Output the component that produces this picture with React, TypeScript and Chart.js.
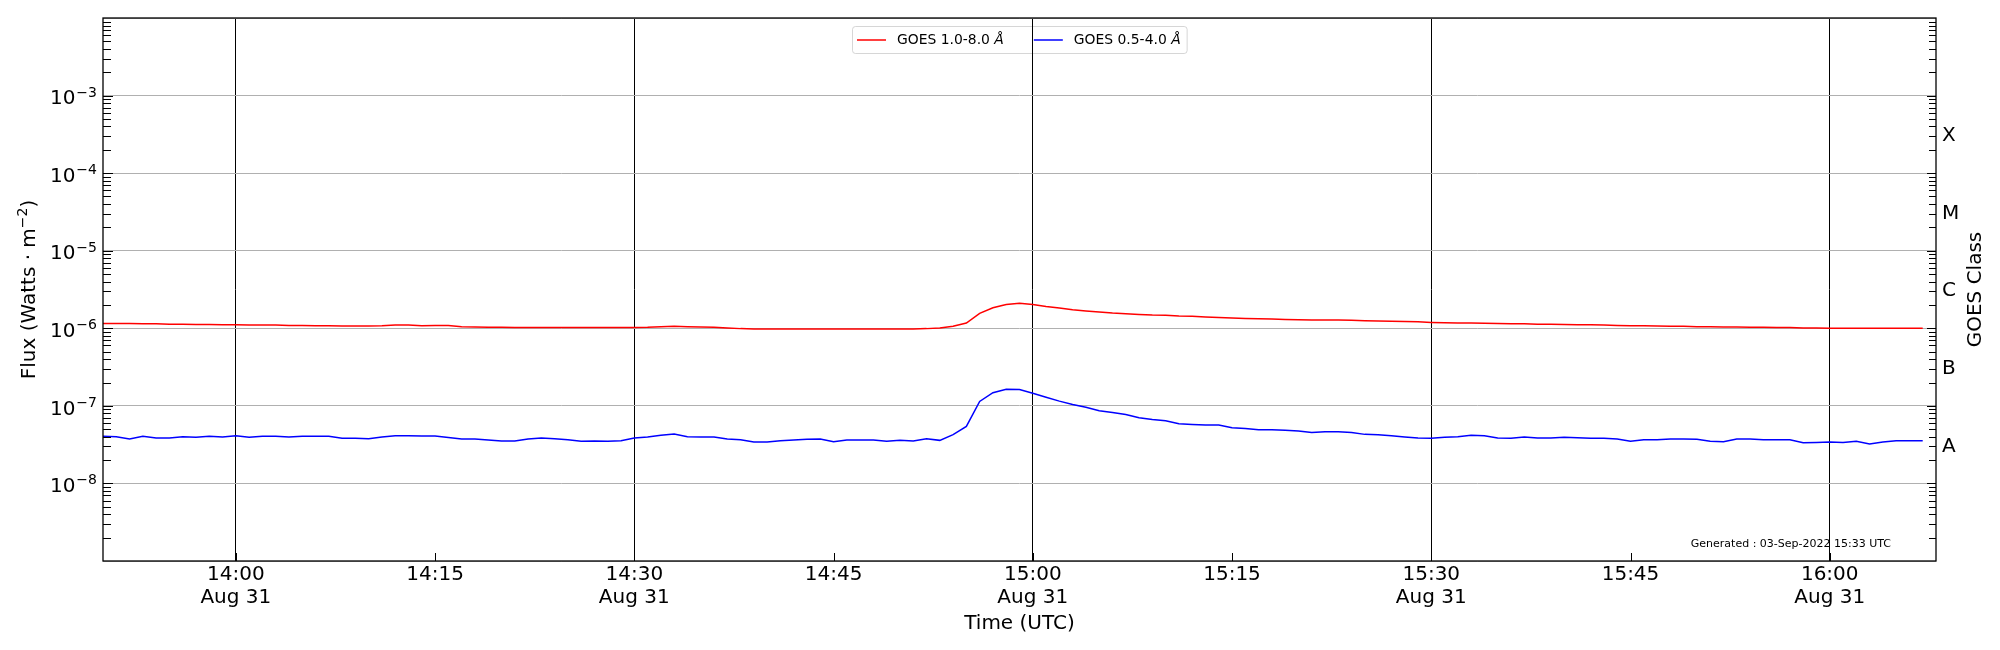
import { useEffect, useRef } from "react";
import { Chart, registerables } from "chart.js";

Chart.register(...registerables);

const FONT = '"DejaVu Sans", sans-serif';
Chart.defaults.font.family = FONT;

// one-minute GOES XRS averages, 13:50 .. 16:07 UTC
const startMinute = 830; // 13:50 UTC, minutes since midnight
const endMinute = 968; // 16:08 UTC, right edge of the axis

// 1.0-8.0 Å channel, in units of 1e-6 W/m^2
const xrsLong = [
  1.15, 1.15, 1.15, 1.14, 1.14, 1.13, 1.13, 1.12, 1.12, 1.11,
  1.11, 1.1, 1.1, 1.1, 1.09, 1.09, 1.08, 1.08, 1.07, 1.07,
  1.07, 1.08, 1.1, 1.1, 1.08, 1.09, 1.09, 1.05, 1.04, 1.03,
  1.03, 1.02, 1.02, 1.02, 1.02, 1.02, 1.02, 1.02, 1.02, 1.02,
  1.02, 1.03, 1.05, 1.06, 1.05, 1.04, 1.03, 1.01, 0.99, 0.98,
  0.98, 0.98, 0.98, 0.98, 0.98, 0.98, 0.98, 0.98, 0.98, 0.98,
  0.98, 0.98, 0.99, 1.01, 1.06, 1.17, 1.56, 1.84, 2.03, 2.11,
  2.03, 1.91, 1.82, 1.73, 1.67, 1.62, 1.57, 1.54, 1.51, 1.48,
  1.47, 1.44, 1.43, 1.4, 1.38, 1.36, 1.34, 1.33, 1.32, 1.3,
  1.29, 1.28, 1.28, 1.28, 1.27, 1.25, 1.24, 1.23, 1.22, 1.21,
  1.19, 1.18, 1.17, 1.17, 1.16, 1.15, 1.14, 1.14, 1.13, 1.13,
  1.12, 1.11, 1.11, 1.1, 1.09, 1.08, 1.08, 1.07, 1.06, 1.06,
  1.05, 1.05, 1.04, 1.04, 1.03, 1.03, 1.02, 1.02, 1.01, 1.01,
  1.0, 1.0, 1.0, 1.0, 1.0, 1.0, 1.0, 1.0,
];

// 0.5-4.0 Å channel, in units of 1e-8 W/m^2
const xrsShort = [
  4.05, 4.01, 3.74, 4.05, 3.85, 3.85, 4.01, 3.93, 4.05, 3.97,
  4.12, 3.93, 4.05, 4.05, 3.97, 4.05, 4.05, 4.05, 3.81, 3.81,
  3.77, 3.97, 4.12, 4.12, 4.08, 4.08, 3.9, 3.74, 3.74, 3.63,
  3.52, 3.52, 3.74, 3.85, 3.77, 3.66, 3.49, 3.52, 3.49, 3.56,
  3.85, 3.97, 4.17, 4.33, 4.01, 3.97, 3.97, 3.74, 3.66, 3.42,
  3.42, 3.56, 3.63, 3.7, 3.74, 3.45, 3.63, 3.63, 3.63, 3.49,
  3.59, 3.52, 3.77, 3.59, 4.25, 5.43, 11.4, 14.8, 16.4, 16.2,
  14.5, 12.9, 11.5, 10.4, 9.61, 8.63, 8.22, 7.74, 7.02, 6.68,
  6.43, 5.88, 5.76, 5.65, 5.65, 5.22, 5.12, 4.92, 4.92, 4.83,
  4.73, 4.55, 4.64, 4.64, 4.55, 4.29, 4.25, 4.12, 3.97, 3.85,
  3.81, 3.93, 4.01, 4.17, 4.12, 3.85, 3.81, 3.97, 3.85, 3.85,
  3.93, 3.89, 3.81, 3.81, 3.74, 3.49, 3.66, 3.66, 3.74, 3.74,
  3.7, 3.49, 3.45, 3.74, 3.74, 3.66, 3.66, 3.66, 3.35, 3.38,
  3.42, 3.38, 3.49, 3.22, 3.42, 3.56, 3.56, 3.56,
];

const seriesLabels = ["GOES 1.0-8.0 Å", "GOES 0.5-4.0 Å"];
const seriesColors = ["#ff0000", "#0000ff"];

const timeTicks = [840, 855, 870, 885, 900, 915, 930, 945, 960];
const dateLabel = "Aug 31";
const fluxDecades = [-8, -7, -6, -5, -4, -3];
const goesClassLevels = [3e-8, 3e-7, 3e-6, 3e-5, 3e-4];
const goesClassLabels = ["A", "B", "C", "M", "X"];
const generatedNote = "Generated : 03-Sep-2022 15:33 UTC";

const isDecade = (v: number) =>
  Math.abs(Math.log10(v) - Math.round(Math.log10(v))) < 1e-6;
const hhmm = (m: number) =>
  `${Math.floor(m / 60)}:${String(m % 60).padStart(2, "0")}`;

// label text with the trailing Å in italics (matplotlib mathtext look)
function splitLabel(text: string) {
  return text.endsWith("Å") ? [text.slice(0, -1), "Å"] : [text, ""];
}
function measureLabel(ctx: CanvasRenderingContext2D, text: string, size: number) {
  const [head, tail] = splitLabel(text);
  ctx.font = `${size}px ${FONT}`;
  let w = ctx.measureText(head).width;
  ctx.font = `italic ${size}px ${FONT}`;
  w += ctx.measureText(tail).width;
  return w;
}
function drawLabel(ctx: CanvasRenderingContext2D, text: string, x: number, y: number, size: number) {
  const [head, tail] = splitLabel(text);
  ctx.font = `${size}px ${FONT}`;
  ctx.fillText(head, x, y);
  const w = ctx.measureText(head).width;
  ctx.font = `italic ${size}px ${FONT}`;
  ctx.fillText(tail, x + w, y);
}

const goesPlugin = {
  id: "goesDecor",
  // legend sits under the grid, like the matplotlib one
  beforeDraw(chart: any) {
    const { ctx, chartArea: a } = chart;
    const fs = 13.9;
    const lineLen = 29, gapLT = 11, gapItems = 30, padL = 5, padR = 6;
    const datasets = chart.data.datasets;
    const widths = datasets.map((ds: any) => measureLabel(ctx, ds.label, fs));
    const total =
      padL + padR + gapItems * (widths.length - 1) +
      widths.reduce((s: number, w: number) => s + lineLen + gapLT + w, 0);
    const bx = Math.round((a.left + a.right) / 2 - total / 2);
    const by = a.top + 8;
    const bh = 27;
    ctx.save();
    ctx.beginPath();
    ctx.roundRect(bx + 0.5, by + 0.5, total, bh, 3);
    ctx.fillStyle = "rgba(255,255,255,0.8)";
    ctx.fill();
    ctx.strokeStyle = "rgba(204,204,204,0.8)";
    ctx.lineWidth = 1;
    ctx.stroke();
    let x = bx + padL;
    const cy = by + 14;
    datasets.forEach((ds: any, i: number) => {
      ctx.strokeStyle = ds.borderColor;
      ctx.lineWidth = 1.5;
      ctx.beginPath();
      ctx.moveTo(x, cy);
      ctx.lineTo(x + lineLen, cy);
      ctx.stroke();
      x += lineLen + gapLT;
      ctx.fillStyle = "#000";
      ctx.textAlign = "left";
      ctx.textBaseline = "middle";
      drawLabel(ctx, ds.label, x, cy, fs);
      x += widths[i] + gapItems;
    });
    ctx.restore();
  },
  afterDraw(chart: any) {
    const { ctx, chartArea: a, scales } = chart;
    const ys = scales.y;
    const xs = scales.x;
    ctx.save();

    // frame
    ctx.strokeStyle = "#000";
    ctx.lineWidth = 1.3;
    ctx.strokeRect(a.left, a.top, a.right - a.left, a.bottom - a.top);

    // inward ticks on left, right and bottom
    ctx.lineWidth = 1;
    ctx.beginPath();
    for (let e = -9; e <= -3; e++) {
      for (let k = 1; k <= 9; k++) {
        const py = Math.round(ys.getPixelForValue(k * Math.pow(10, e))) + 0.5;
        if (py <= a.top + 1 || py >= a.bottom - 1) continue;
        const len = k === 1 ? 10 : 8;
        ctx.moveTo(a.left, py);
        ctx.lineTo(a.left + len, py);
        ctx.moveTo(a.right, py);
        ctx.lineTo(a.right - len + 1, py);
      }
    }
    timeTicks.forEach((t) => {
      const px = Math.round(xs.getPixelForValue(t)) + 0.5;
      ctx.moveTo(px, a.bottom);
      ctx.lineTo(px, a.bottom - 8);
    });
    ctx.stroke();

    // left tick labels 10^-n
    ctx.fillStyle = "#000";
    ctx.textBaseline = "alphabetic";
    ctx.textAlign = "right";
    fluxDecades.forEach((e) => {
      const py = ys.getPixelForValue(Math.pow(10, e));
      const sup = "\u2212" + Math.abs(e);
      const rx = a.left - 6;
      ctx.font = `14px ${FONT}`;
      ctx.fillText(sup, rx, py + 1);
      const sw = ctx.measureText(sup).width;
      ctx.font = `20px ${FONT}`;
      ctx.fillText("10", rx - sw - 1, py + 8.7);
    });

    // left axis title with superscript
    const parts: [string, number, number][] = [
      ["Flux (Watts \u00b7 m", 20, 0],
      ["\u22122", 14, -8],
      [")", 20, 0],
    ];
    ctx.save();
    ctx.translate(a.left - 68, (a.top + a.bottom) / 2);
    ctx.rotate(-Math.PI / 2);
    ctx.textAlign = "left";
    let total = 0;
    parts.forEach(([t, s]) => {
      ctx.font = `${s}px ${FONT}`;
      total += ctx.measureText(t).width;
    });
    let tx = -total / 2;
    parts.forEach(([t, s, dy]) => {
      ctx.font = `${s}px ${FONT}`;
      ctx.fillText(t, tx, dy);
      tx += ctx.measureText(t).width;
    });
    ctx.restore();

    // right axis title
    ctx.save();
    ctx.translate(a.right + 45, (a.top + a.bottom) / 2);
    ctx.rotate(-Math.PI / 2);
    ctx.textAlign = "center";
    ctx.font = `20px ${FONT}`;
    ctx.fillText("GOES Class", 0, 0);
    ctx.restore();

    // generation note
    ctx.font = `11px ${FONT}`;
    ctx.textAlign = "right";
    ctx.fillText(generatedNote, a.right - 45, a.bottom - 13.7);

    ctx.restore();
  },
};

export default function App() {
  const canvasRef = useRef<HTMLCanvasElement | null>(null);

  useEffect(() => {
    if (!canvasRef.current) return;
    const chart = new Chart(canvasRef.current, {
      type: "line",
      data: {
        datasets: [
          {
            label: seriesLabels[0],
            data: xrsLong.map((v, i) => ({ x: startMinute + i, y: v * 1e-6 })),
            borderColor: seriesColors[0],
            borderWidth: 1.5,
            pointRadius: 0,
            tension: 0,
            fill: false,
          },
          {
            label: seriesLabels[1],
            data: xrsShort.map((v, i) => ({ x: startMinute + i, y: v * 1e-8 })),
            borderColor: seriesColors[1],
            borderWidth: 1.5,
            pointRadius: 0,
            tension: 0,
            fill: false,
          },
        ],
      },
      options: {
        animation: false,
        responsive: true,
        maintainAspectRatio: false,
        layout: { padding: { top: 15, left: 0, right: 0, bottom: 0 } },
        plugins: {
          legend: { display: false },
          tooltip: { enabled: false },
        },
        scales: {
          x: {
            type: "linear",
            position: "bottom",
            min: startMinute,
            max: endMinute,
            afterBuildTicks: (s: any) => {
              s.ticks = timeTicks.map((v) => ({ value: v }));
            },
            ticks: {
              callback: (v: any) =>
                v % 30 === 0 ? [hhmm(v), dateLabel] : hhmm(v),
              font: { family: FONT, size: 20, lineHeight: 1.12 },
              color: "#000",
              padding: 3,
              maxRotation: 0,
              autoSkip: false,
            },
            grid: {
              color: (c: any) =>
                c.tick && c.tick.value % 30 === 0 ? "#000" : "rgba(0,0,0,0)",
              lineWidth: 1,
              drawTicks: false,
            },
            border: { display: false },
            title: {
              display: true,
              text: "Time (UTC)",
              font: { family: FONT, size: 20 },
              color: "#000",
              padding: { top: 0, bottom: 14 },
            },
            afterFit: (s: any) => {
              s.height = 89;
            },
          },
          y: {
            type: "logarithmic",
            position: "left",
            min: 1e-9,
            max: 1e-2,
            ticks: { display: false },
            grid: {
              color: (c: any) =>
                c.tick && isDecade(c.tick.value) ? "#b0b0b0" : "rgba(0,0,0,0)",
              lineWidth: 1,
              drawTicks: false,
            },
            border: { display: false },
            afterFit: (s: any) => {
              s.width = 103;
            },
          },
          y2: {
            type: "logarithmic",
            position: "right",
            min: 1e-9,
            max: 1e-2,
            afterBuildTicks: (s: any) => {
              s.ticks = goesClassLevels.map((v) => ({ value: v }));
            },
            ticks: {
              callback: (v: any) => goesClassLabels[goesClassLevels.indexOf(v)] ?? "",
              font: { family: FONT, size: 20 },
              color: "#000",
              padding: 6,
              autoSkip: false,
            },
            grid: { display: false, drawTicks: false },
            border: { display: false },
            afterFit: (s: any) => {
              s.width = 64;
            },
          },
        },
      } as any,
      plugins: [goesPlugin],
    });
    return () => chart.destroy();
  }, []);

  return (
    <div
      style={{
        position: "fixed",
        left: 0,
        top: 0,
        width: 2000,
        height: 650,
        background: "#fff",
      }}
    >
      <canvas ref={canvasRef} />
    </div>
  );
}
